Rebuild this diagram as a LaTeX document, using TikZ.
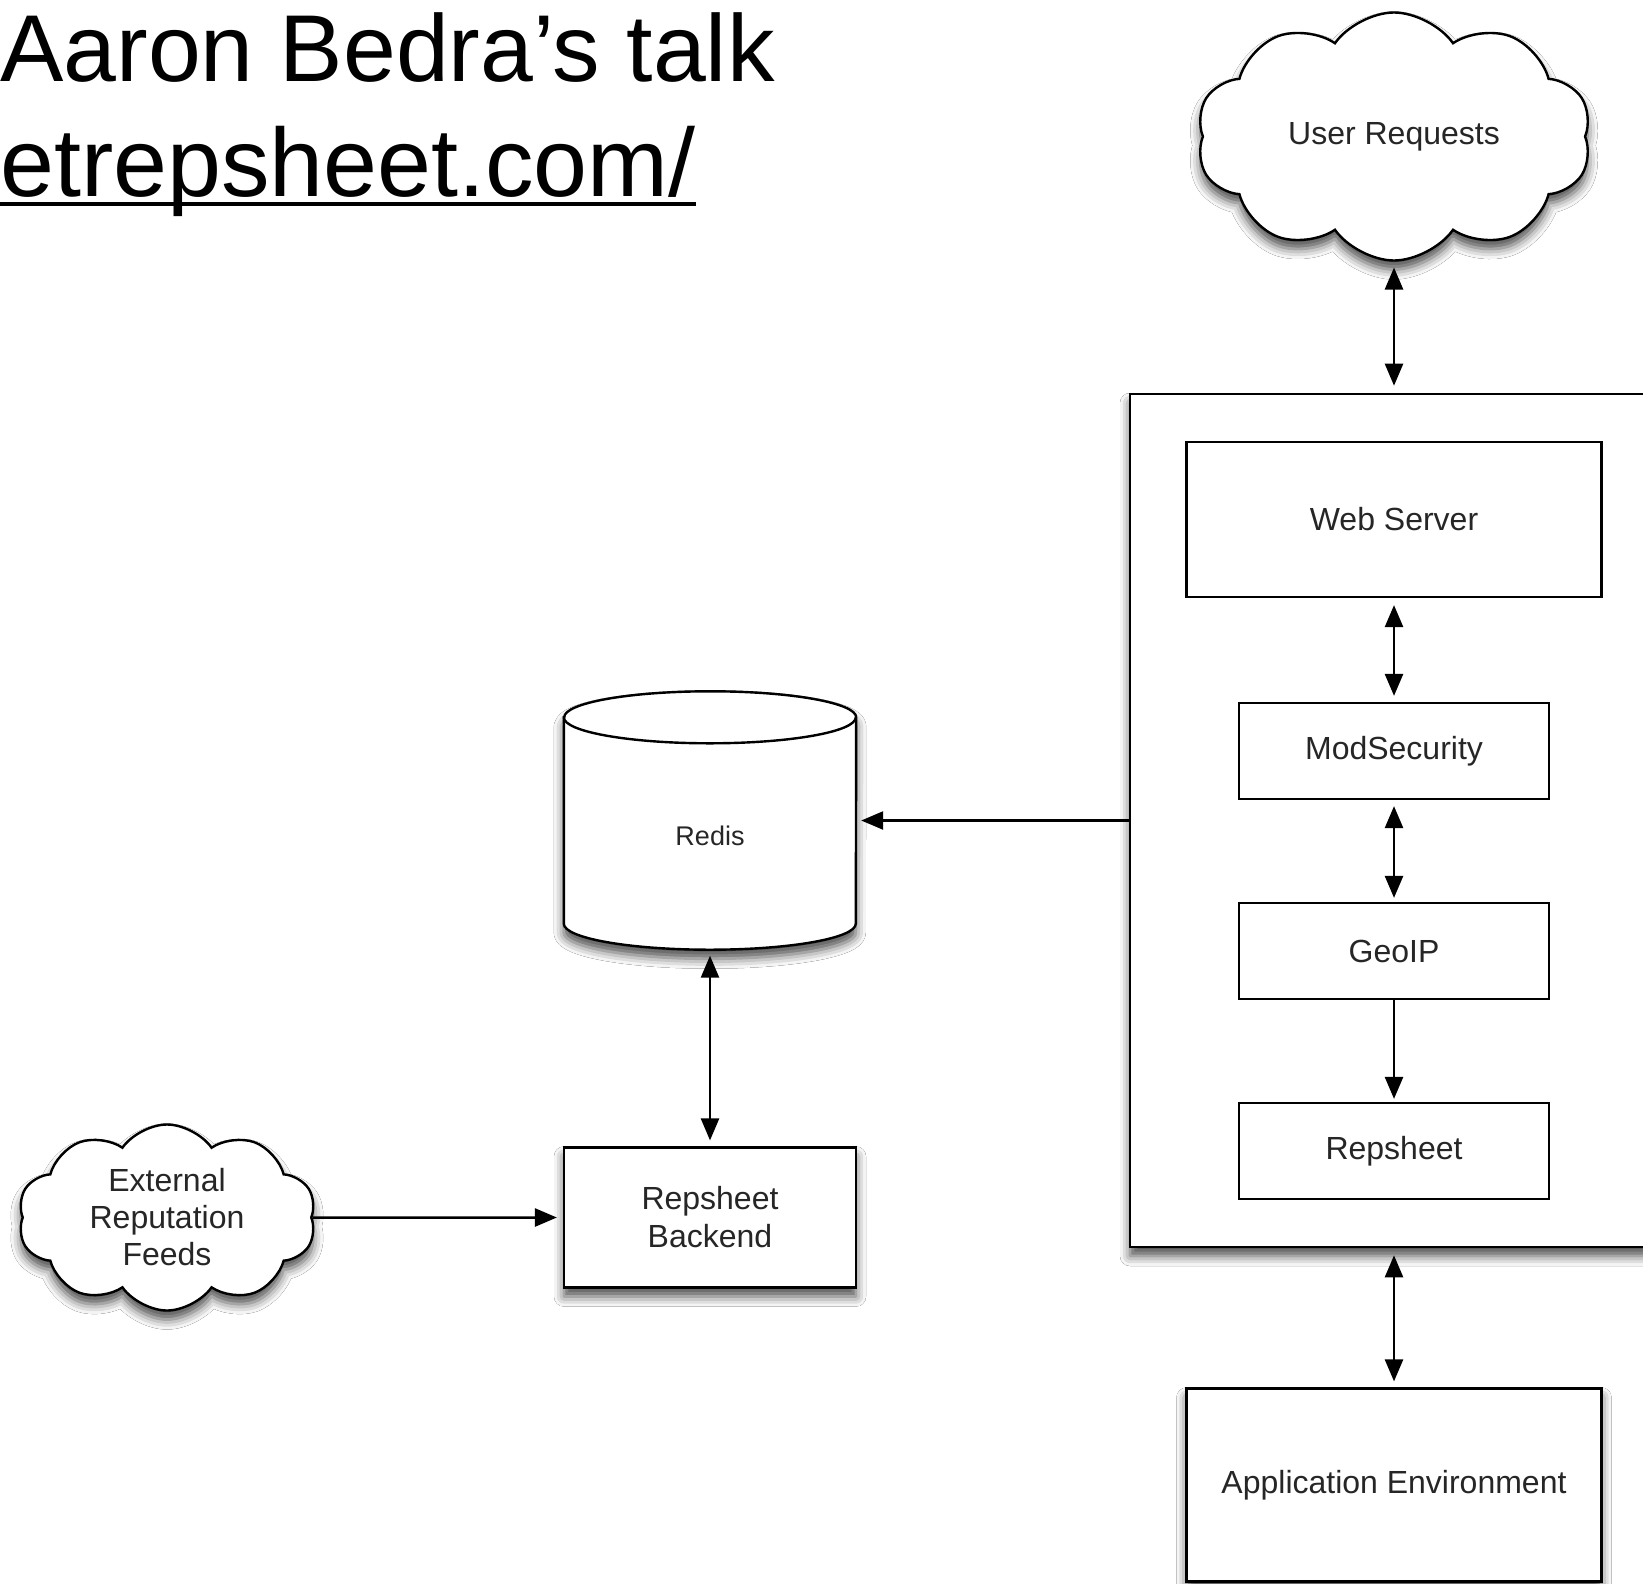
\documentclass[tikz,border=0pt]{standalone}
\usepackage{fontspec}
\setmainfont{Liberation Sans}
\usetikzlibrary{positioning,shapes.geometric,shapes.symbols,arrows.meta,shadows.blur}
\tikzstyle{block} = [draw, rectangle, line width=2.2pt, fill=white, text=black!85, minimum width=310pt, minimum height=96pt, font=\fontsize{32}{38}\selectfont]
\tikzstyle{shade} = [blur shadow={shadow xshift=0pt, shadow yshift=-9pt, shadow blur radius=10pt, shadow opacity=70}]
\tikzstyle{cloudy} = [draw, cloud, cloud puffs=10, cloud puff arc=110, aspect=1.6, line width=2.4pt, fill=white, text=black!85, align=center, font=\fontsize{32}{37}\selectfont, shade]
\tikzstyle{store} = [draw, line width=2.4pt, fill=white, shade]
\tikzstyle{title} = [inner sep=0pt, anchor=base west, font=\fontsize{95}{114}\selectfont]
\tikzstyle{link} = [draw=black, line width=2.5pt]

\begin{document}
\begin{tikzpicture}[auto, x=1pt, y=-1pt, node distance=200pt, >={Triangle[length=22pt,width=18pt,fill=black]}]
\useasboundingbox (0,0) rectangle (1643,1584);
\clip (0,0) rectangle (1643,1584);
\fill [white] (0,0) rectangle (1643,1584);

\node [title] (talk) at (0,82) {Aaron Bedra’s talk};
\node [title, font=\fontsize{97}{114}\selectfont] (url) at (0,196) {etrepsheet.com/};
\draw [line width=4pt] ([yshift=-8pt]url.base west) -- ([yshift=-8pt]url.base east);

\node [block, shade, line width=2.6pt, minimum width=570pt, minimum height=853pt] (frontend) at (1415,820.5) {};
\node [block, minimum width=415pt, minimum height=155pt] (webserver) at (1394,519.5) {Web Server};
\node [block, below of=webserver, node distance=231.5pt] (modsec) {ModSecurity};
\node [block, below of=modsec, node distance=200pt] (geoip) {GeoIP};
\node [block, below of=geoip, node distance=200pt] (repsheet) {Repsheet};
\node [block, shade, minimum width=415pt, minimum height=193pt, below of=repsheet, node distance=334pt] (appenv) {Application Environment};

\node [cloudy, minimum width=395pt, minimum height=248pt, above of=webserver, node distance=383pt] (user) {User Requests};

\node [inner sep=0pt, minimum width=292pt, minimum height=258pt, left of=frontend, node distance=705pt] (redis) {};
\begin{scope}
\draw [store] ([yshift=-26pt]redis.north west) -- ([yshift=26pt]redis.south west)
  arc [start angle=180, end angle=360, x radius=146pt, y radius=26pt] -- ([yshift=-26pt]redis.north east)
  arc [start angle=0, end angle=180, x radius=146pt, y radius=26pt] -- cycle;
\draw [line width=2.4pt] ([yshift=-26pt]redis.north west) arc [start angle=180, end angle=360, x radius=146pt, y radius=26pt];
\end{scope}
\node [font=\fontsize{27}{32}\selectfont, text=black!85] (redislabel) at ([yshift=-15pt]redis.center) {Redis};

\node [block, shade, minimum width=292pt, minimum height=140pt, below of=redis, node distance=397pt, align=center] (backend) {Repsheet\\Backend};
\node [cloudy, minimum width=298pt, minimum height=186pt, left of=backend, node distance=543pt] (feeds) {External\\Reputation\\Feeds};

\draw [link, <->, shorten >=7pt] ([yshift=-131pt]user.center) -- (webserver |- frontend.north);
\draw [link, <->, shorten <=7pt, shorten >=6pt] (webserver) -- (modsec);
\draw [link, <->, shorten <=6pt, shorten >=4pt] (modsec) -- (geoip);
\draw [link, ->, shorten >=3pt] (geoip) -- (repsheet);
\draw [link, <->, shorten <=7pt, shorten >=6pt] (appenv.north |- frontend.south) -- (appenv);
\draw [link, ->, shorten >=5pt] (frontend.west) -- (redis.east);
\draw [link, <->, shorten <=6pt, shorten >=6pt] (redis) -- (backend);
\draw [link, ->, shorten >=6pt] (feeds) -- (backend);

\end{tikzpicture}
\end{document}
